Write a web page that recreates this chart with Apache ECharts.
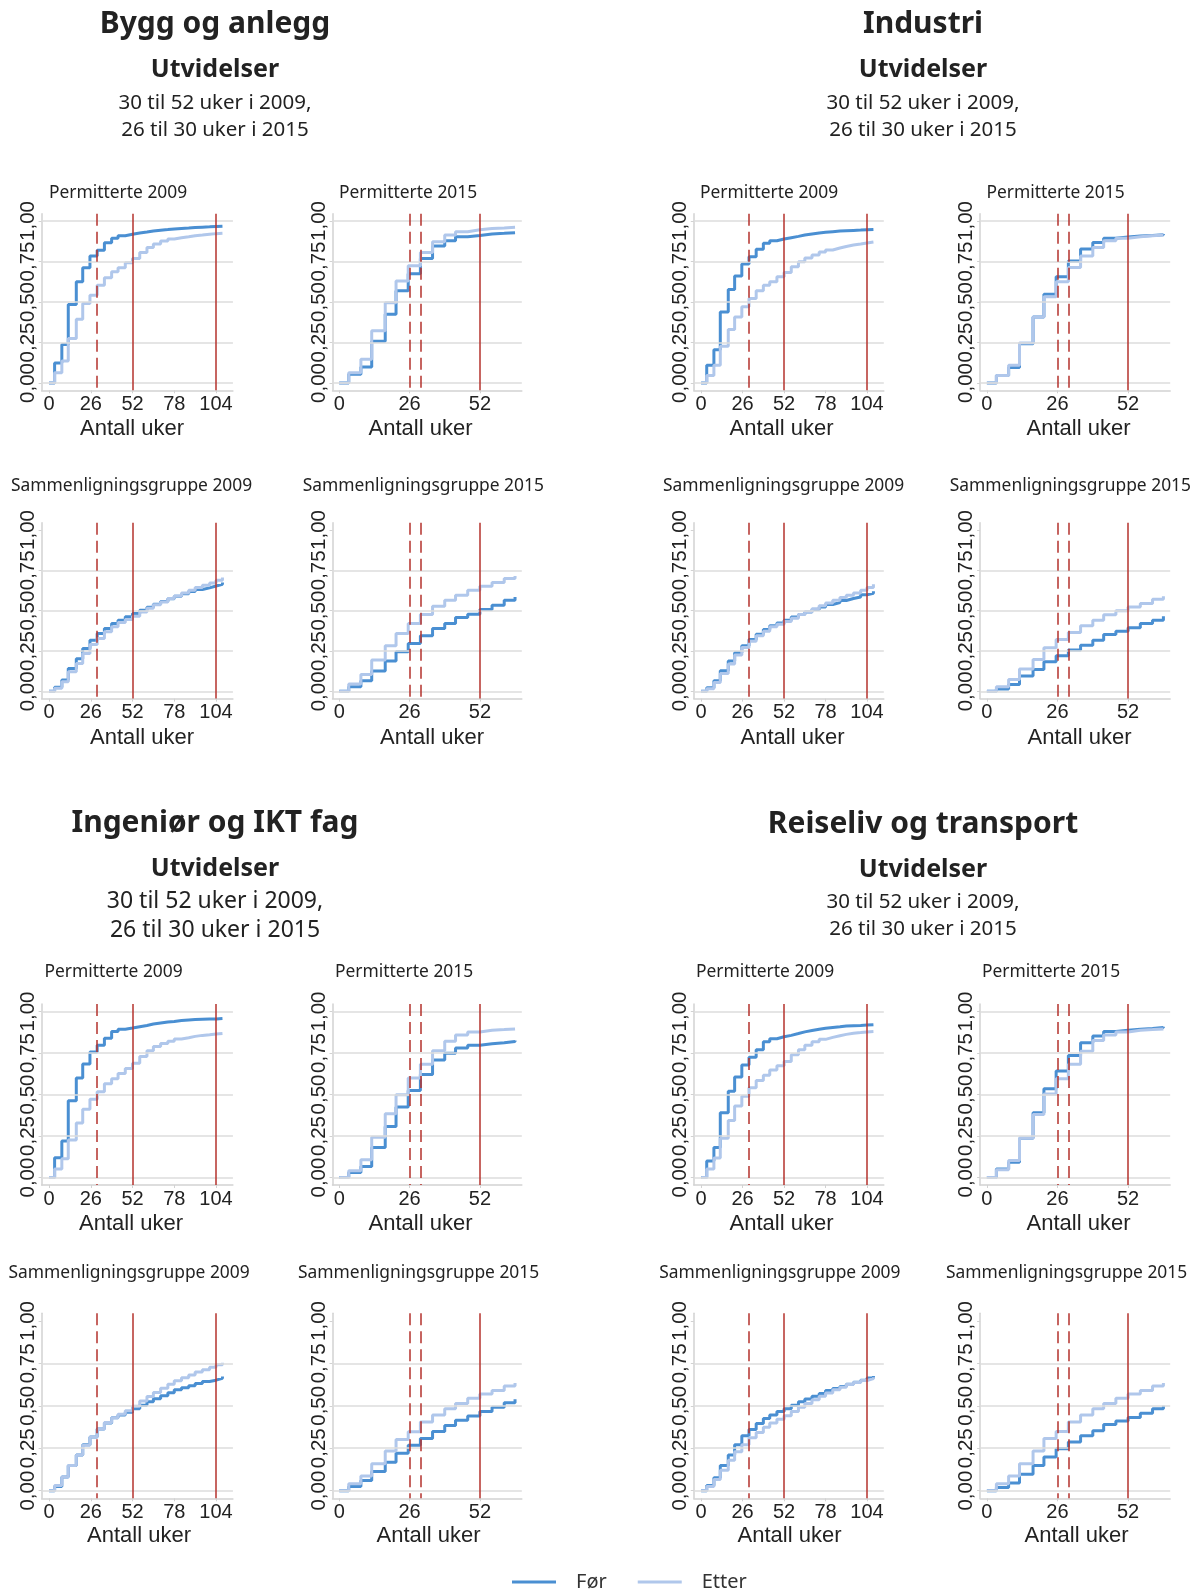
<!DOCTYPE html>
<html>
<head>
<meta charset="utf-8">
<style>
  html, body { margin: 0; padding: 0; background: #fff; }
  #chart { width: 1197px; height: 1589px; }
</style>
<script src="https://cdn.jsdelivr.net/npm/echarts@6/dist/echarts.min.js"></script>
</head>
<body>
<div id="chart"></div>
<script>
// uker der trinnene skjer (leses av figuren)
var weeks2009 = [0, 3.5, 8, 12, 17, 21, 25.5, 30, 34.5, 39, 43, 47.5, 52, 56.5, 61, 65, 69.5, 74, 78, 82.5, 87, 91, 95.5, 100, 104, 108];
var weeks2015 = [0, 3.5, 8, 12, 17, 21, 25.5, 30, 34.5, 39, 43, 47.5, 52, 56.5, 61, 65];

var xTicks2009 = [0, 26, 52, 78, 104];
var xTicks2015 = [0, 26, 52];
var yTicks = [0, 0.25, 0.5, 0.75, 1];

var cutoffs2009 = [30, 52, 104];
var dashed2009 = [true, false, false];
var cutoffs2015 = [26, 30, 52];
var dashed2015 = [true, true, false];

// Bygg og anlegg
var byggPerm2009For = [0, 0.124, 0.237, 0.485, 0.625, 0.711, 0.784, 0.82, 0.866, 0.893, 0.909, 0.918, 0.926, 0.932, 0.938, 0.943, 0.947, 0.951, 0.954, 0.957, 0.96, 0.962, 0.964, 0.966, 0.968, 0.969];
var byggPerm2009Etter = [0, 0.064, 0.136, 0.274, 0.394, 0.49, 0.542, 0.604, 0.649, 0.687, 0.711, 0.742, 0.769, 0.806, 0.837, 0.858, 0.876, 0.889, 0.897, 0.903, 0.909, 0.913, 0.918, 0.922, 0.924, 0.926];
var byggPerm2015For = [0, 0.054, 0.099, 0.258, 0.425, 0.569, 0.674, 0.769, 0.845, 0.878, 0.903, 0.911, 0.92, 0.924, 0.928, 0.932];
var byggPerm2015Etter = [0, 0.064, 0.146, 0.322, 0.495, 0.629, 0.724, 0.806, 0.872, 0.913, 0.934, 0.946, 0.953, 0.957, 0.961, 0.965];
var byggSam2009For = [0, 0.025, 0.07, 0.142, 0.202, 0.266, 0.317, 0.359, 0.39, 0.42, 0.441, 0.462, 0.482, 0.503, 0.521, 0.54, 0.556, 0.573, 0.589, 0.604, 0.618, 0.631, 0.641, 0.653, 0.664, 0.674];
var byggSam2009Etter = [0, 0.019, 0.06, 0.122, 0.173, 0.235, 0.29, 0.328, 0.369, 0.4, 0.427, 0.445, 0.466, 0.492, 0.515, 0.536, 0.554, 0.575, 0.591, 0.61, 0.626, 0.643, 0.657, 0.672, 0.688, 0.705];
var byggSam2015For = [0, 0.029, 0.066, 0.126, 0.188, 0.245, 0.297, 0.344, 0.389, 0.42, 0.457, 0.478, 0.507, 0.534, 0.565, 0.585];
var byggSam2015Etter = [0, 0.045, 0.105, 0.194, 0.282, 0.359, 0.42, 0.476, 0.527, 0.565, 0.596, 0.626, 0.651, 0.674, 0.699, 0.715];

// Industri
var indPerm2009For = [0, 0.109, 0.206, 0.439, 0.577, 0.66, 0.734, 0.779, 0.825, 0.862, 0.878, 0.889, 0.897, 0.905, 0.913, 0.92, 0.926, 0.93, 0.934, 0.938, 0.94, 0.942, 0.944, 0.946, 0.948, 0.95];
var indPerm2009Etter = [0, 0.047, 0.109, 0.227, 0.33, 0.408, 0.47, 0.522, 0.569, 0.604, 0.625, 0.656, 0.682, 0.718, 0.748, 0.771, 0.79, 0.808, 0.821, 0.833, 0.843, 0.852, 0.858, 0.864, 0.87, 0.874];
var indPerm2015For = [0, 0.047, 0.095, 0.243, 0.408, 0.548, 0.656, 0.753, 0.827, 0.868, 0.893, 0.901, 0.907, 0.911, 0.915, 0.92];
var indPerm2015Etter = [0, 0.047, 0.109, 0.247, 0.408, 0.532, 0.625, 0.713, 0.784, 0.837, 0.878, 0.893, 0.903, 0.909, 0.913, 0.915];
var indSam2009For = [0, 0.023, 0.066, 0.128, 0.188, 0.239, 0.282, 0.321, 0.354, 0.383, 0.406, 0.424, 0.441, 0.46, 0.476, 0.492, 0.507, 0.523, 0.538, 0.55, 0.563, 0.575, 0.585, 0.598, 0.608, 0.62];
var indSam2009Etter = [0, 0.016, 0.054, 0.111, 0.169, 0.225, 0.272, 0.311, 0.344, 0.373, 0.4, 0.416, 0.433, 0.453, 0.476, 0.492, 0.511, 0.53, 0.548, 0.565, 0.581, 0.595, 0.61, 0.626, 0.643, 0.663];
var indSam2015For = [0, 0.014, 0.043, 0.095, 0.136, 0.183, 0.22, 0.256, 0.286, 0.317, 0.352, 0.373, 0.394, 0.42, 0.441, 0.466];
var indSam2015Etter = [0, 0.029, 0.074, 0.138, 0.198, 0.27, 0.321, 0.365, 0.406, 0.441, 0.474, 0.499, 0.523, 0.544, 0.571, 0.589];

// Ingeniør og IKT fag
var ingPerm2009For = [0, 0.119, 0.22, 0.462, 0.6, 0.684, 0.756, 0.797, 0.838, 0.879, 0.893, 0.9, 0.908, 0.916, 0.924, 0.93, 0.936, 0.94, 0.945, 0.949, 0.951, 0.953, 0.955, 0.955, 0.957, 0.957];
var ingPerm2009Etter = [0, 0.051, 0.113, 0.226, 0.329, 0.411, 0.472, 0.517, 0.565, 0.595, 0.626, 0.657, 0.688, 0.729, 0.764, 0.789, 0.807, 0.821, 0.834, 0.842, 0.85, 0.856, 0.86, 0.864, 0.867, 0.869];
var ingPerm2015For = [0, 0.031, 0.066, 0.181, 0.308, 0.425, 0.524, 0.62, 0.708, 0.749, 0.78, 0.797, 0.805, 0.811, 0.819, 0.825];
var ingPerm2015Etter = [0, 0.041, 0.107, 0.242, 0.384, 0.499, 0.6, 0.682, 0.764, 0.821, 0.858, 0.877, 0.887, 0.891, 0.895, 0.899];
var ingSam2009For = [0, 0.025, 0.08, 0.148, 0.21, 0.271, 0.316, 0.364, 0.399, 0.429, 0.446, 0.462, 0.483, 0.503, 0.524, 0.542, 0.559, 0.577, 0.594, 0.606, 0.618, 0.631, 0.643, 0.651, 0.662, 0.672];
var ingSam2009Etter = [0, 0.031, 0.08, 0.148, 0.21, 0.267, 0.316, 0.364, 0.401, 0.429, 0.45, 0.471, 0.497, 0.528, 0.555, 0.579, 0.604, 0.627, 0.647, 0.666, 0.682, 0.699, 0.713, 0.727, 0.742, 0.754];
var ingSam2015For = [0, 0.025, 0.06, 0.113, 0.168, 0.22, 0.267, 0.308, 0.349, 0.384, 0.415, 0.44, 0.466, 0.491, 0.518, 0.538];
var ingSam2015Etter = [0, 0.041, 0.086, 0.158, 0.234, 0.302, 0.347, 0.405, 0.446, 0.483, 0.514, 0.545, 0.569, 0.59, 0.616, 0.635];

// Reiseliv og transport
var reisPerm2009For = [0, 0.099, 0.181, 0.39, 0.52, 0.606, 0.678, 0.725, 0.77, 0.817, 0.836, 0.848, 0.856, 0.867, 0.877, 0.885, 0.893, 0.899, 0.904, 0.908, 0.912, 0.914, 0.916, 0.918, 0.92, 0.922];
var reisPerm2009Etter = [0, 0.051, 0.117, 0.236, 0.343, 0.431, 0.489, 0.54, 0.585, 0.616, 0.647, 0.673, 0.698, 0.739, 0.77, 0.797, 0.817, 0.832, 0.844, 0.854, 0.862, 0.869, 0.873, 0.877, 0.879, 0.881];
var reisPerm2015For = [0, 0.051, 0.092, 0.236, 0.39, 0.534, 0.641, 0.735, 0.811, 0.852, 0.879, 0.887, 0.893, 0.897, 0.903, 0.908];
var reisPerm2015Etter = [0, 0.047, 0.103, 0.236, 0.38, 0.503, 0.595, 0.682, 0.76, 0.825, 0.858, 0.877, 0.887, 0.891, 0.895, 0.899];
var reisSam2009For = [0, 0.031, 0.076, 0.148, 0.21, 0.271, 0.323, 0.36, 0.395, 0.425, 0.446, 0.466, 0.483, 0.503, 0.524, 0.54, 0.557, 0.573, 0.59, 0.602, 0.614, 0.627, 0.639, 0.651, 0.664, 0.676];
var reisSam2009Etter = [0, 0.025, 0.066, 0.121, 0.179, 0.23, 0.271, 0.312, 0.343, 0.374, 0.399, 0.421, 0.442, 0.466, 0.491, 0.514, 0.536, 0.557, 0.575, 0.594, 0.61, 0.625, 0.637, 0.649, 0.66, 0.668];
var reisSam2015For = [0, 0.018, 0.045, 0.097, 0.148, 0.199, 0.247, 0.286, 0.323, 0.353, 0.39, 0.411, 0.431, 0.456, 0.483, 0.501];
var reisSam2015Etter = [0, 0.041, 0.086, 0.158, 0.234, 0.308, 0.349, 0.405, 0.446, 0.483, 0.514, 0.545, 0.569, 0.59, 0.616, 0.635];

var BLUE = '#4a8fd2';
var LIGHT = '#b0c7eb';
var RED = '#b4322d';
var GRID = '#dcdcdc';
var AXIS = '#d2d2d2';
var INK = '#222';

// rader: [top, height, y for "Antall uker"], kolonner: [left, width]
var rows = [[213.7, 176.6, 429], [522.7, 175.9, 738], [1004, 181, 1224], [1313.3, 185, 1536]];
var cols = [[41.6, 191.3], [332.5, 189.3], [693.8, 190], [980.1, 190.1]];

var panels = [
    { t: 'Permitterte 2009', tx: 49, ty: 193, row: 0, col: 0, nx: 132, y: 2009, f: byggPerm2009For, e: byggPerm2009Etter, top: true },
    { t: 'Permitterte 2015', tx: 339, ty: 193, row: 0, col: 1, nx: 420.5, y: 2015, f: byggPerm2015For, e: byggPerm2015Etter, top: true },
    { t: 'Sammenligningsgruppe 2009', tx: 11, ty: 486, row: 1, col: 0, nx: 142, y: 2009, f: byggSam2009For, e: byggSam2009Etter },
    { t: 'Sammenligningsgruppe 2015', tx: 302.7, ty: 486, row: 1, col: 1, nx: 432, y: 2015, f: byggSam2015For, e: byggSam2015Etter },

    { t: 'Permitterte 2009', tx: 700, ty: 193, row: 0, col: 2, nx: 781.5, y: 2009, f: indPerm2009For, e: indPerm2009Etter, top: true },
    { t: 'Permitterte 2015', tx: 986.4, ty: 193, row: 0, col: 3, nx: 1078.5, y: 2015, f: indPerm2015For, e: indPerm2015Etter, top: true },
    { t: 'Sammenligningsgruppe 2009', tx: 663, ty: 486, row: 1, col: 2, nx: 792.5, y: 2009, f: indSam2009For, e: indSam2009Etter },
    { t: 'Sammenligningsgruppe 2015', tx: 949.8, ty: 486, row: 1, col: 3, nx: 1079.5, y: 2015, f: indSam2015For, e: indSam2015Etter },

    { t: 'Permitterte 2009', tx: 44.5, ty: 972.5, row: 2, col: 0, nx: 131, y: 2009, f: ingPerm2009For, e: ingPerm2009Etter, top: true },
    { t: 'Permitterte 2015', tx: 335, ty: 972.5, row: 2, col: 1, nx: 420.5, y: 2015, f: ingPerm2015For, e: ingPerm2015Etter, top: true },
    { t: 'Sammenligningsgruppe 2009', tx: 8.5, ty: 1273, row: 3, col: 0, nx: 139, y: 2009, f: ingSam2009For, e: ingSam2009Etter },
    { t: 'Sammenligningsgruppe 2015', tx: 298, ty: 1273, row: 3, col: 1, nx: 428.5, y: 2015, f: ingSam2015For, e: ingSam2015Etter },

    { t: 'Permitterte 2009', tx: 696, ty: 972.5, row: 2, col: 2, nx: 781.5, y: 2009, f: reisPerm2009For, e: reisPerm2009Etter, top: true },
    { t: 'Permitterte 2015', tx: 982, ty: 972.5, row: 2, col: 3, nx: 1078.5, y: 2015, f: reisPerm2015For, e: reisPerm2015Etter, top: true },
    { t: 'Sammenligningsgruppe 2009', tx: 659.3, ty: 1273, row: 3, col: 2, nx: 789.5, y: 2009, f: reisSam2009For, e: reisSam2009Etter },
    { t: 'Sammenligningsgruppe 2015', tx: 946, ty: 1273, row: 3, col: 3, nx: 1076.5, y: 2015, f: reisSam2015For, e: reisSam2015Etter }
];

var headers = [
    { x: 215, lines: [['Bygg og anlegg', 24, 30, 'bold'], ['Utvidelser', 70, 25, 'bold'], ['30 til 52 uker i 2009,', 103, 20.5, 'normal'], ['26 til 30 uker i 2015', 130, 20.5, 'normal']] },
    { x: 923, lines: [['Industri', 24, 30, 'bold'], ['Utvidelser', 70, 25, 'bold'], ['30 til 52 uker i 2009,', 103, 20.5, 'normal'], ['26 til 30 uker i 2015', 130, 20.5, 'normal']] },
    { x: 215, lines: [['Ingeniør og IKT fag', 823.5, 30, 'bold'], ['Utvidelser', 869, 25, 'bold'], ['30 til 52 uker i 2009,', 901.5, 23, 'normal'], ['26 til 30 uker i 2015', 930.5, 23, 'normal']] },
    { x: 923, lines: [['Reiseliv og transport', 824, 30, 'bold'], ['Utvidelser', 870, 25, 'bold'], ['30 til 52 uker i 2009,', 902.5, 20.5, 'normal'], ['26 til 30 uker i 2015', 929.5, 20.5, 'normal']] }
];

function pairs(xs, ys) {
    return xs.map(function (x, i) { return [x, ys[i]]; });
}

function comma(v) {
    return v.toFixed(2).replace('.', ',');
}

function text(str, x, y, font, align) {
    return {
        type: 'text', x: x, y: y, silent: true,
        style: {
            text: str, fill: INK, font: font,
            align: align, textAlign: align,
            verticalAlign: 'middle', textVerticalAlign: 'middle'
        }
    };
}

var option = {
    animation: false,
    backgroundColor: '#fff',
    grid: [], xAxis: [], yAxis: [], series: [], graphic: [],
    legend: {
        data: [{ name: 'Før', icon: 'rect' }, { name: 'Etter', icon: 'rect' }],
        left: 507, top: 1567,
        itemWidth: 44, itemHeight: 3, itemGap: 31,
        textStyle: { fontFamily: 'Noto Sans', fontSize: 20, color: '#333', padding: [0, 0, 0, 15] }
    }
};

headers.forEach(function (h) {
    h.lines.forEach(function (l) {
        option.graphic.push(text(l[0], h.x, l[1], l[3] + ' ' + l[2] + 'px "Noto Sans"', 'center'));
    });
});

panels.forEach(function (p, i) {
    var is09 = p.y === 2009;
    var weeks = is09 ? weeks2009 : weeks2015;
    var xTicks = is09 ? xTicks2009 : xTicks2015;
    var cuts = is09 ? cutoffs2009 : cutoffs2015;
    var dash = is09 ? dashed2009 : dashed2015;
    var yMin = -0.045, yMax = 1.045;
    var r = rows[p.row], c = cols[p.col];

    option.grid.push({
        left: c[0], top: r[0], width: c[1], height: r[1],
        containLabel: false, outerBoundsMode: 'none'
    });

    option.xAxis.push({
        gridIndex: i, type: 'value',
        min: is09 ? -4.6 : -2.5, max: is09 ? 114.5 : 67.5,
        axisLine: { show: true, onZero: false, lineStyle: { color: AXIS, width: 1.5 } },
        axisTick: { show: true, customValues: xTicks, length: 3, lineStyle: { color: AXIS } },
        axisLabel: { customValues: xTicks, margin: 4, fontFamily: 'Liberation Sans', fontSize: 20, color: INK },
        splitLine: { show: false }
    });

    option.yAxis.push({
        gridIndex: i, type: 'value', min: yMin, max: yMax,
        axisLine: { show: true, onZero: false, lineStyle: { color: AXIS, width: 1.5 } },
        axisTick: { show: true, customValues: yTicks, length: 3, lineStyle: { color: AXIS } },
        axisLabel: {
            customValues: yTicks, rotate: 90, margin: 3, hideOverlap: false,
            fontFamily: 'Liberation Sans', fontSize: 20.5, color: INK,
            formatter: comma
        },
        splitLine: { show: false }
    });

    // gitterlinjer + røde referanselinjer (tegnes ovenfra og ned)
    var marks = [];
    yTicks.forEach(function (v) {
        if (v === 1 && !p.top) return;
        marks.push({ yAxis: v, lineStyle: { color: GRID, width: 1.5, type: 'solid' } });
    });
    cuts.forEach(function (cut, k) {
        marks.push([
            { coord: [cut, yMax], lineStyle: { color: RED, width: 1.5, type: dash[k] ? [12, 6] : 'solid', dashOffset: 0 } },
            { coord: [cut, yMin] }
        ]);
    });

    option.series.push({
        type: 'line', xAxisIndex: i, yAxisIndex: i, data: [], silent: true, z: 1,
        markLine: { silent: true, symbol: ['none', 'none'], label: { show: false }, animation: false, data: marks }
    });

    option.series.push({
        name: 'Før', type: 'line', step: 'end', xAxisIndex: i, yAxisIndex: i,
        showSymbol: false, symbol: 'none', z: 3,
        lineStyle: { color: BLUE, width: 3 }, itemStyle: { color: BLUE },
        data: pairs(weeks, p.f)
    });
    option.series.push({
        name: 'Etter', type: 'line', step: 'end', xAxisIndex: i, yAxisIndex: i,
        showSymbol: false, symbol: 'none', z: 4,
        lineStyle: { color: LIGHT, width: 3 }, itemStyle: { color: LIGHT },
        data: pairs(weeks, p.e)
    });

    option.graphic.push(text(p.t, p.tx, p.ty, 'normal 17.4px "Noto Sans"', 'left'));
    option.graphic.push(text('Antall uker', p.nx, r[2], 'normal 22px "Liberation Sans"', 'center'));
});

var myChart = echarts.init(document.getElementById('chart'));
myChart.setOption(option);
</script>
</body>
</html>
